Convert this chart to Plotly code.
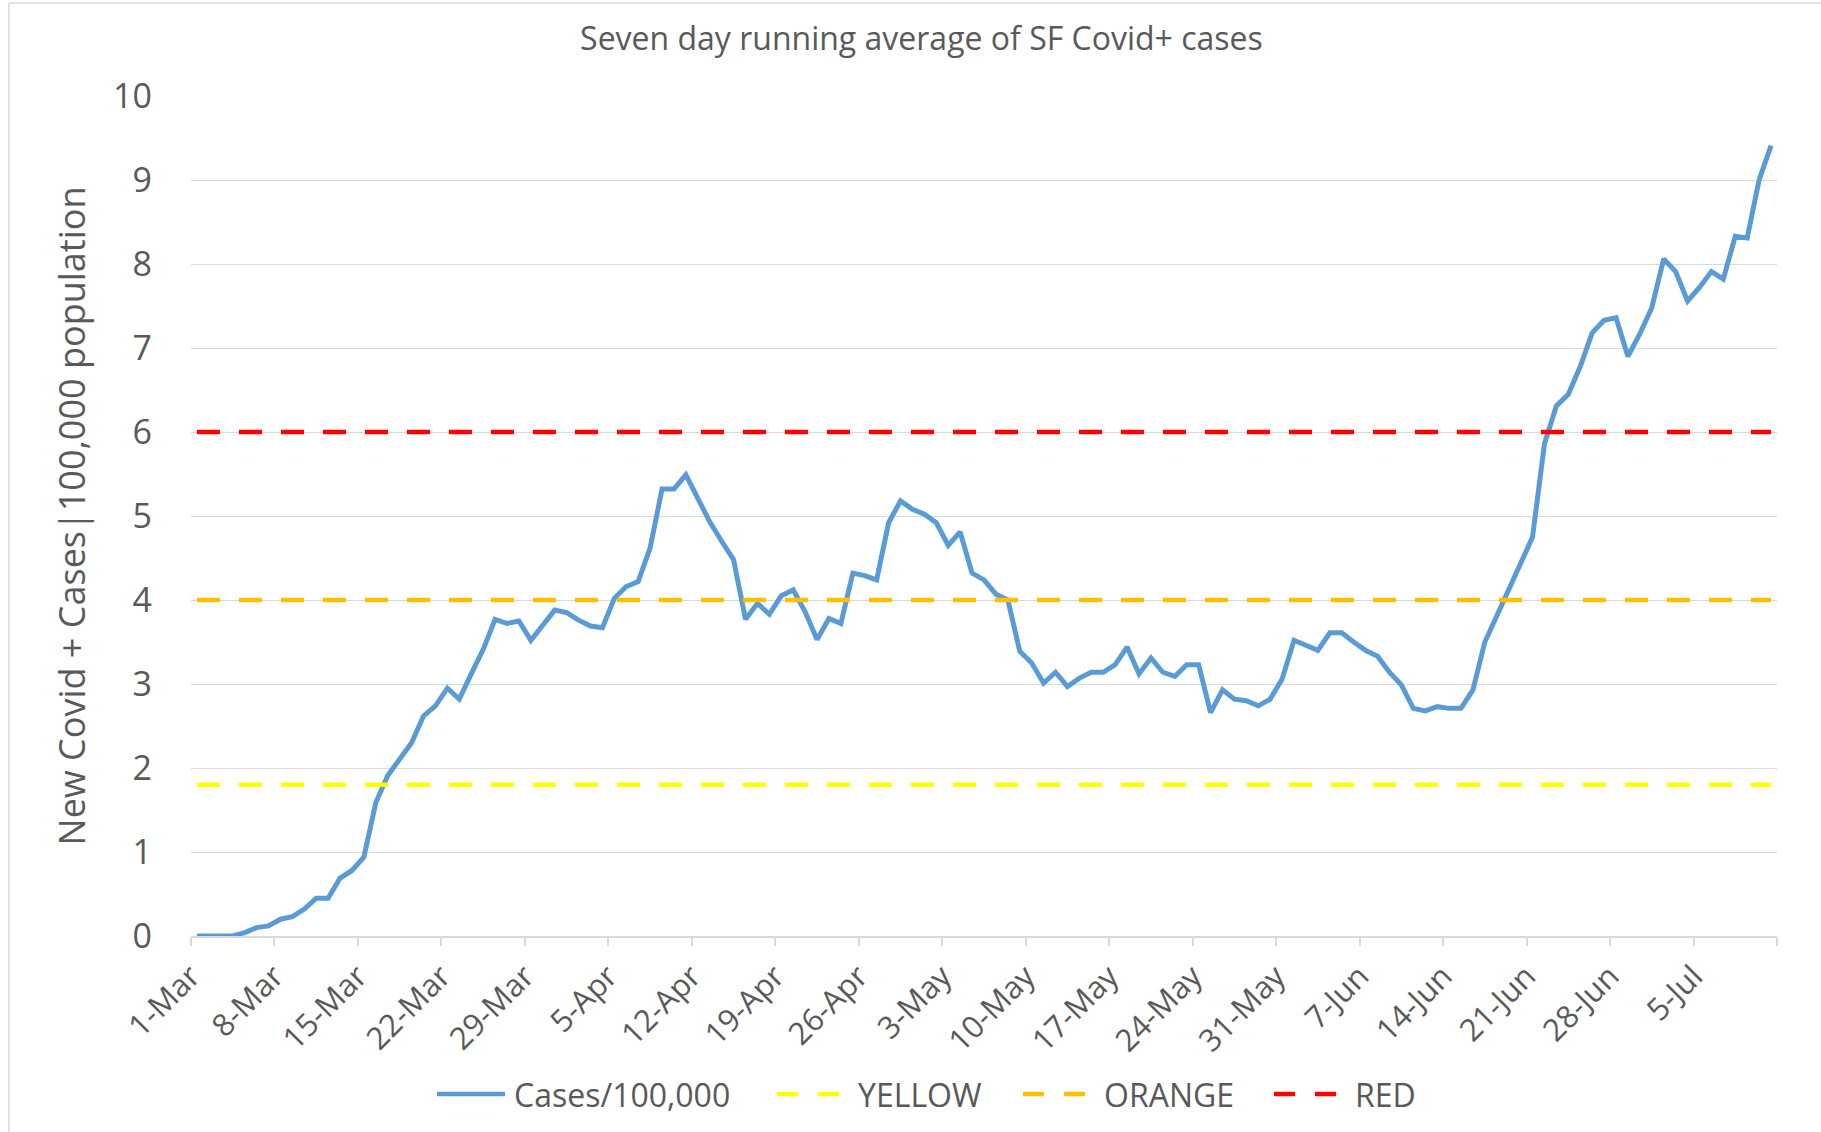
import pandas as pd
import plotly.graph_objects as go

# ---------------- data ----------------
start_date = "2020-03-01"
end_date = "2020-07-11"

cases_mar = [0.00, 0.00, 0.00, 0.00, 0.04, 0.10, 0.12, 0.20, 0.23, 0.32,
             0.45, 0.45, 0.69, 0.78, 0.94, 1.59, 1.91, 2.10, 2.30, 2.62,
             2.74, 2.95, 2.82, 3.12, 3.41, 3.77, 3.72, 3.75, 3.52, 3.70, 3.88]
cases_apr = [3.85, 3.76, 3.69, 3.67, 4.02, 4.16, 4.22, 4.62, 5.32, 5.32,
             5.49, 5.21, 4.93, 4.70, 4.48, 3.77, 3.96, 3.83, 4.05, 4.12,
             3.86, 3.53, 3.78, 3.72, 4.32, 4.29, 4.24, 4.92, 5.18, 5.08]
cases_may = [5.02, 4.92, 4.65, 4.81, 4.32, 4.24, 4.07, 4.00, 3.39, 3.25,
             3.01, 3.14, 2.97, 3.07, 3.14, 3.14, 3.23, 3.44, 3.12, 3.31,
             3.14, 3.09, 3.23, 3.23, 2.66, 2.93, 2.82, 2.80, 2.74, 2.82, 3.06]
cases_jun = [3.52, 3.46, 3.40, 3.61, 3.61, 3.50, 3.40, 3.33, 3.14, 2.99,
             2.71, 2.68, 2.73, 2.71, 2.71, 2.93, 3.50, 3.81, 4.12, 4.43,
             4.75, 5.86, 6.31, 6.45, 6.78, 7.18, 7.33, 7.36, 6.90, 7.17]
cases_jul = [7.48, 8.06, 7.91, 7.56, 7.72, 7.91, 7.82, 8.33, 8.31, 9.00, 9.41]

yellow_level = 1.8
orange_level = 4.0
red_level = 6.0

tick_labels = ["1-Mar", "8-Mar", "15-Mar", "22-Mar", "29-Mar", "5-Apr", "12-Apr",
               "19-Apr", "26-Apr", "3-May", "10-May", "17-May", "24-May", "31-May",
               "7-Jun", "14-Jun", "21-Jun", "28-Jun", "5-Jul"]

series_names = ["Cases/100,000", "YELLOW", "ORANGE", "RED"]
series_colors = ["#5B9BD5", "#FFFF00", "#FFC000", "#FF0000"]

title_text = "Seven day running average of SF Covid+ cases"
y_title = "New Covid + Cases|100,000 population"

# ---------------- build ----------------
dates = pd.date_range(start_date, end_date, freq="D")
cases = cases_mar + cases_apr + cases_may + cases_jun + cases_jul
assert len(cases) == len(dates)

half_day = pd.Timedelta(hours=12)
tick_dates = [dates[0] + pd.Timedelta(days=7 * k) - half_day for k in range(len(tick_labels))]
tick_vals = tick_dates + [dates[-1] + half_day]
tick_text = tick_labels + [""]

W, H = 1821, 1132
L, R, T, B = 191, 44, 96, 196
PW, PH = W - L - R, H - T - B

def px(x):
    return (x - L) / PW

def py(y):
    return (H - B - y) / PH

FONT = "Open Sans, Noto Sans, sans-serif"
GREY = "#595959"
GRID = "#D9D9D9"

fig = go.Figure()
fig.add_trace(go.Scatter(x=dates, y=cases, mode="lines", name=series_names[0],
                         line=dict(color=series_colors[0], width=5.0),
                         showlegend=False))
for name, col, lvl in zip(series_names[1:], series_colors[1:],
                          [yellow_level, orange_level, red_level]):
    fig.add_trace(go.Scatter(x=dates, y=[lvl] * len(dates), mode="lines", name=name,
                             line=dict(color=col, width=4.6, dash="23px,19px"),
                             showlegend=False))

fig.update_layout(
    width=W, height=H,
    margin=dict(l=L, r=R, t=T, b=B, autoexpand=False),
    paper_bgcolor="white", plot_bgcolor="white",
    font=dict(family=FONT, color=GREY),
    title=dict(text=title_text, x=0.506, xref="container",
               xanchor="center", y=1 - 39 / H, yanchor="middle",
               font=dict(size=32, color=GREY, family=FONT)),
    showlegend=False,
)

fig.update_xaxes(
    range=[dates[0] - half_day, dates[-1] + half_day],
    tickmode="array", tickvals=tick_vals, ticktext=tick_text,
    tickangle=-45, tickfont=dict(size=31, color=GREY, family=FONT),
    showgrid=False, showline=True, linecolor=GRID, linewidth=1.5,
    ticks="outside", ticklen=8, tickwidth=1.5, tickcolor=GRID,
    zeroline=False,
)
fig.update_yaxes(
    range=[0, 10], dtick=1, tick0=0,
    tickfont=dict(size=34, color=GREY, family=FONT),
    showgrid=True, gridcolor=GRID, gridwidth=1.3,
    zeroline=False, showline=False, ticks="",
    ticklabelstandoff=38,
    title=dict(text=y_title, standoff=16, font=dict(size=36, color=GREY, family=FONT)),
)

# chart-area border (left and top)
shapes = [
    dict(type="line", xref="paper", yref="paper", x0=px(9), x1=px(9), y0=py(3), y1=py(H),
         line=dict(color=GRID, width=1.5)),
    dict(type="line", xref="paper", yref="paper", x0=px(9), x1=px(W), y0=py(3), y1=py(3),
         line=dict(color=GRID, width=1.5)),
]

# custom legend
leg_y = py(1094)
sample_spans = [(437, 505), (777, 841), (1023, 1088), (1274, 1339)]
text_left = [512, 856, 1102, 1353]
annotations = []
for i, (name, col) in enumerate(zip(series_names, series_colors)):
    x0, x1 = sample_spans[i]
    shapes.append(dict(type="line", xref="paper", yref="paper",
                       x0=px(x0), x1=px(x1), y0=leg_y, y1=leg_y,
                       line=dict(color=col, width=4.6,
                                 dash="solid" if i == 0 else "21px,20px")))
    annotations.append(dict(text=name, xref="paper", yref="paper",
                            x=px(text_left[i]), y=leg_y, xanchor="left", yanchor="middle",
                            showarrow=False, font=dict(size=32, color=GREY, family=FONT)))

fig.update_layout(shapes=shapes, annotations=annotations)

fig.write_html("out.html", config={"displayModeBar": False},
               post_script="document.body.style.margin='0';document.body.style.overflow='hidden';")
